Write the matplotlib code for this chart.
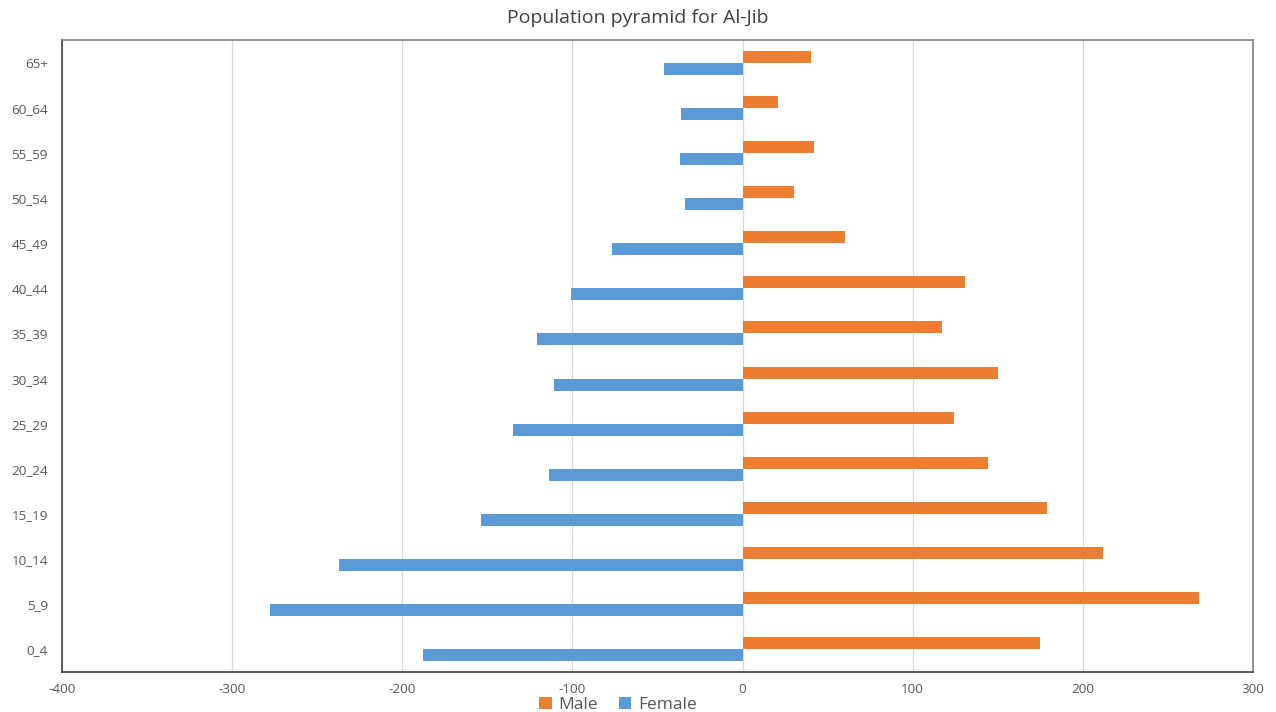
import matplotlib
matplotlib.use("Agg")
import matplotlib.pyplot as plt
import numpy as np

categories = ["0_4", "5_9", "10_14", "15_19", "20_24", "25_29", "30_34",
              "35_39", "40_44", "45_49", "50_54", "55_59", "60_64", "65+"]
male = [175, 268, 212, 179, 144, 124, 150, 117, 131, 60, 30, 42, 21, 40]
female = [-188, -278, -237, -154, -114, -135, -111, -121, -101, -77, -34, -37, -36, -46]
xticks = [-400, -300, -200, -100, 0, 100, 200, 300]

plt.rcParams['font.family'] = ['Open Sans', 'DejaVu Sans']
fig = plt.figure(figsize=(12.76, 7.12), dpi=100)
ax = fig.add_axes([62/1276, 1-672/712, (1253-62)/1276, (672-40)/712])

y = np.arange(len(categories))
h = 0.265
ax.barh(y + h/2, male, height=h, color="#ED7D31", label="Male", zorder=3)
ax.barh(y - h/2, female, height=h, color="#5B9BD5", label="Female", zorder=3)

ax.set_xlim(-400, 300)
ax.set_ylim(-0.5, 13.5)
ax.set_xticks(xticks)
ax.set_xticklabels([str(t) for t in xticks])
ax.set_yticks(y)
ax.set_yticklabels(categories)
ax.tick_params(axis='both', length=0, labelsize=9.7, colors="#595959", pad=8)
ax.tick_params(axis='y', pad=10)
ax.grid(axis='x', color="#d9d9d9", linewidth=0.9, zorder=0)
for s in ['left', 'bottom']:
    ax.spines[s].set_color("#404040")
    ax.spines[s].set_linewidth(1.2)
for s in ['top', 'right']:
    ax.spines[s].set_color("#808080")
    ax.spines[s].set_linewidth(1.2)

fig.suptitle("Population pyramid for Al-Jib", y=1-9/712, fontsize=14, color="#404040")
ax.legend(loc='lower center', bbox_to_anchor=(0.467, -0.09), ncol=2, frameon=False,
          fontsize=12.5, handlelength=0.7, handleheight=0.7, handletextpad=0.4,
          columnspacing=1.2, labelcolor="#595959")

fig.savefig("out.png", dpi=100)
